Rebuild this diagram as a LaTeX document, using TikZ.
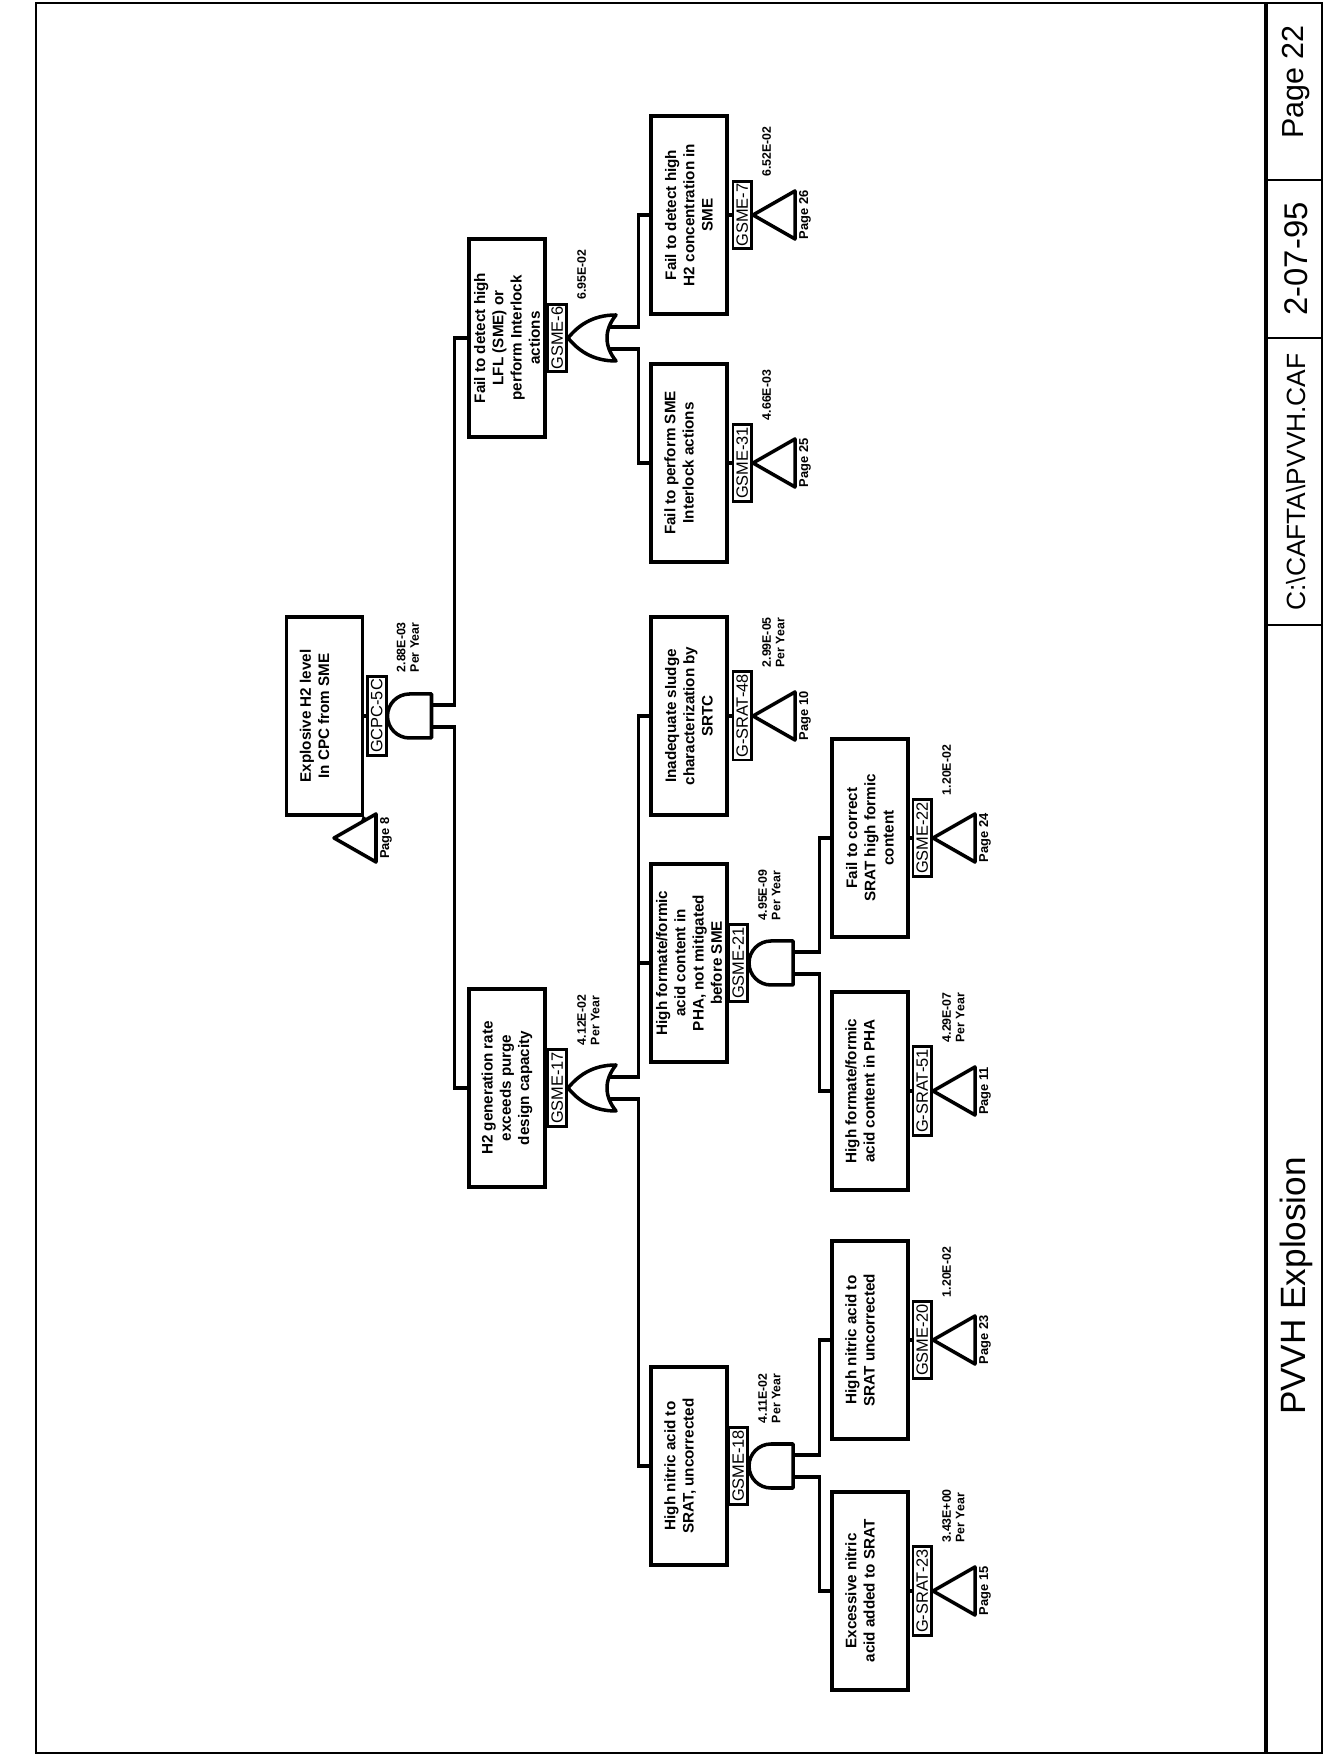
\documentclass[tikz,border=0pt]{standalone}
\usepackage{fontspec}
\setmainfont{Liberation Sans}
\usetikzlibrary{calc}

\tikzset{
	evbox/.style={draw, line width=2.9pt, minimum width=59.4mm, minimum height=22.8mm, inner sep=1mm, align=center, font=\fontsize{13}{15.6}\selectfont\bfseries},
	twoline/.style={text depth=6mm},
	gatelabel/.style={draw, fill=white, line width=2.4pt, anchor=south, minimum height=5.6mm, inner xsep=0.7mm, inner ysep=0pt, font=\fontsize{14}{15}\selectfont},
	prob/.style={anchor=north west, inner sep=0pt, align=left, font=\fontsize{10.5}{11.6}\selectfont\bfseries},
	pagetag/.style={anchor=north, inner sep=0pt, font=\fontsize{11}{12}\selectfont\bfseries},
	wire/.style={line width=2.6pt},
	gateline/.style={line width=3pt, line join=round},
	titletext/.style={inner sep=0pt}
}

\newcommand{\andgate}[2]{%
	\coordinate (#1) at (#2);
	\draw[gateline] (#1) ++(-22,-22) arc (180:0:22) -- ++(0,-22) -- ++(-44,0) -- cycle;
	\coordinate (#1-l) at ($(#1)+(-11,-44)$);
	\coordinate (#1-r) at ($(#1)+(11,-44)$);
}
\newcommand{\orgate}[2]{%
	\coordinate (#1) at (#2);
	\draw[gateline] (#1) .. controls ($(#1)+(12,-10)$) and ($(#1)+(23,-24)$) .. ($(#1)+(23,-48)$)
		.. controls ($(#1)+(8,-36)$) and ($(#1)+(-8,-36)$) .. ($(#1)+(-23,-48)$)
		.. controls ($(#1)+(-23,-24)$) and ($(#1)+(-12,-10)$) .. (#1) -- cycle;
	\coordinate (#1-l) at ($(#1)+(-11,-41)$);
	\coordinate (#1-r) at ($(#1)+(11,-41)$);
}
\newcommand{\transfer}[2]{%
	\coordinate (#1) at (#2);
	\draw[gateline] (#1) -- ++(24,-42) -- ++(-48,0) -- cycle;
	\coordinate (#1-b) at ($(#1)+(0,-42)$);
}

\begin{document}
\begin{tikzpicture}[x=0.3mm, y=0.3mm]
	\fill[white] (0,0) rectangle (1324,1756);
	\useasboundingbox (0,0) rectangle (1324,1756);
	\begin{scope}[rotate=90, transform shape]
		% frame and title block
		\draw[line width=1.8pt] (3,-1322) rectangle (1753,-36);
		\draw[line width=3.5pt] (3,-1266) -- (1753,-1266);
		\foreach \x in {1131,1418,1576}{
			\draw[line width=1.8pt] (\x,-1266) -- (\x,-1322);
		}
		\node[titletext, font=\fontsize{30}{32}\selectfont] (ttl) at (470,-1296) {PVVH Explosion};
		\node[titletext, font=\fontsize{22.5}{24}\selectfont] (fil) at (1274,-1296) {C:\textbackslash CAFTA\textbackslash PVVH.CAF};
		\node[titletext, font=\fontsize{28}{30}\selectfont] (dat) at (1497,-1296) {2-07-95};
		\node[titletext, font=\fontsize{26}{28}\selectfont] (pgn) at (1674,-1296) {Page 22};

		% top event
		\node[evbox, twoline] (top) at (1040,-324.5) {Explosive H2 level\\In CPC from SME};
		\transfer{t0}{918,-334}
		\node[pagetag] (pg0) at ($(t0-b)+(0,-4)$) {Page 8};
		\draw[wire] (top.south west) -- ($(t0)+(16.3,-28.5)$);
		\andgate{g5c}{1040,-387.5}
		\draw[wire] (top.south) -- (g5c);
		\node[gatelabel] (l5c) at (g5c) {GCPC-5C};
		\node[prob] (p5c) at ($(l5c.south east)+(3,-9)$) {2.88E-03\\Per Year};

		% level 1
		\node[evbox] (lfl) at (1418,-507) {Fail to detect high\\LFL (SME) or\\perform Interlock\\actions};
		\node[evbox] (h2gen) at (668,-507) {H2 generation rate\\exceeds purge\\design capacity};
		\draw[wire] (g5c-r) |- ($(lfl.north)+(0,13)$) -- (lfl.north);
		\draw[wire] (g5c-l) |- ($(h2gen.north)+(0,13)$) -- (h2gen.north);

		\orgate{g6}{1418,-568}
		\draw[wire] (lfl.south) -- (g6);
		\node[gatelabel] (l6) at (g6) {GSME-6};
		\node[prob] (p6) at ($(l6.south east)+(3,-9)$) {6.95E-02};

		\orgate{g17}{668,-568}
		\draw[wire] (h2gen.south) -- (g17);
		\node[gatelabel] (l17) at (g17) {GSME-17};
		\node[prob] (p17) at ($(l17.south east)+(3,-9)$) {4.12E-02\\Per Year};

		% level 2
		\node[evbox, twoline] (smeint) at (1293,-689) {Fail to perform SME\\Interlock actions};
		\node[evbox] (h2conc) at (1541,-689) {Fail to detect high\\H2 concentration in\\SME};
		\node[evbox] (sludge) at (1040,-689) {Inadequate sludge\\characterization by\\SRTC};
		\node[evbox] (formsme) at (793,-689) {High formate/formic\\acid content in\\PHA, not mitigated\\before SME};
		\node[evbox, twoline] (nitric) at (290,-689) {High nitric acid to\\SRAT, uncorrected};
		\draw[wire] (g6-r) |- ($(h2conc.north)+(0,11)$) -- (h2conc.north);
		\draw[wire] (g6-l) |- ($(smeint.north)+(0,11)$) -- (smeint.north);
		\draw[wire] (g17-r) |- ($(sludge.north)+(0,11)$) -- (sludge.north);
		\draw[wire] ($(formsme.north)+(0,11)$) -- (formsme.north);
		\draw[wire] (g17-l) |- ($(nitric.north)+(0,11)$) -- (nitric.north);

		\transfer{t31}{1293,-753}
		\draw[wire] (smeint.south) -- (t31);
		\node[gatelabel] (l31) at (t31) {GSME-31};
		\node[prob] (p31) at ($(l31.south east)+(3,-9)$) {4.66E-03};
		\node[pagetag] (pg31) at ($(t31-b)+(0,-4)$) {Page 25};

		\transfer{t7}{1541,-753}
		\draw[wire] (h2conc.south) -- (t7);
		\node[gatelabel] (l7) at (t7) {GSME-7};
		\node[prob] (p7) at ($(l7.south east)+(3,-9)$) {6.52E-02};
		\node[pagetag] (pg7) at ($(t7-b)+(0,-4)$) {Page 26};

		\transfer{t48}{1040,-753}
		\draw[wire] (sludge.south) -- (t48);
		\node[gatelabel] (l48) at (t48) {G-SRAT-48};
		\node[prob] (p48) at ($(l48.south east)+(3,-9)$) {2.99E-05\\Per Year};
		\node[pagetag] (pg48) at ($(t48-b)+(0,-4)$) {Page 10};

		\andgate{g21}{793,-749}
		\draw[wire] (formsme.south) -- (g21);
		\node[gatelabel] (l21) at (g21) {GSME-21};
		\node[prob] (p21) at ($(l21.south east)+(3,-9)$) {4.95E-09\\Per Year};

		\andgate{g18}{290,-749}
		\draw[wire] (nitric.south) -- (g18);
		\node[gatelabel] (l18) at (g18) {GSME-18};
		\node[prob] (p18) at ($(l18.south east)+(3,-9)$) {4.11E-02\\Per Year};

		% level 3
		\node[evbox] (fixform) at (918,-870) {Fail to correct\\SRAT high formic\\content};
		\node[evbox, twoline] (formpha) at (665,-870) {High formate/formic\\acid content in PHA};
		\node[evbox, twoline] (nitric2) at (416,-870) {High nitric acid to\\SRAT uncorrected};
		\node[evbox, twoline] (excess) at (165,-870) {Excessive nitric\\acid added to SRAT};
		\draw[wire] (g21-r) |- ($(fixform.north)+(0,11)$) -- (fixform.north);
		\draw[wire] (g21-l) |- ($(formpha.north)+(0,11)$) -- (formpha.north);
		\draw[wire] (g18-r) |- ($(nitric2.north)+(0,11)$) -- (nitric2.north);
		\draw[wire] (g18-l) |- ($(excess.north)+(0,11)$) -- (excess.north);

		\transfer{t22}{918,-933}
		\draw[wire] (fixform.south) -- (t22);
		\node[gatelabel] (l22) at (t22) {GSME-22};
		\node[prob] (p22) at ($(l22.south east)+(3,-9)$) {1.20E-02};
		\node[pagetag] (pg22) at ($(t22-b)+(0,-4)$) {Page 24};

		\transfer{t51}{665,-933}
		\draw[wire] (formpha.south) -- (t51);
		\node[gatelabel] (l51) at (t51) {G-SRAT-51};
		\node[prob] (p51) at ($(l51.south east)+(3,-9)$) {4.29E-07\\Per Year};
		\node[pagetag] (pg51) at ($(t51-b)+(0,-4)$) {Page 11};

		\transfer{t20}{416,-933}
		\draw[wire] (nitric2.south) -- (t20);
		\node[gatelabel] (l20) at (t20) {GSME-20};
		\node[prob] (p20) at ($(l20.south east)+(3,-9)$) {1.20E-02};
		\node[pagetag] (pg20) at ($(t20-b)+(0,-4)$) {Page 23};

		\transfer{t23}{165,-933}
		\draw[wire] (excess.south) -- (t23);
		\node[gatelabel] (l23) at (t23) {G-SRAT-23};
		\node[prob] (p23) at ($(l23.south east)+(3,-9)$) {3.43E+00\\Per Year};
		\node[pagetag] (pg23) at ($(t23-b)+(0,-4)$) {Page 15};
	\end{scope}
\end{tikzpicture}
\end{document}
